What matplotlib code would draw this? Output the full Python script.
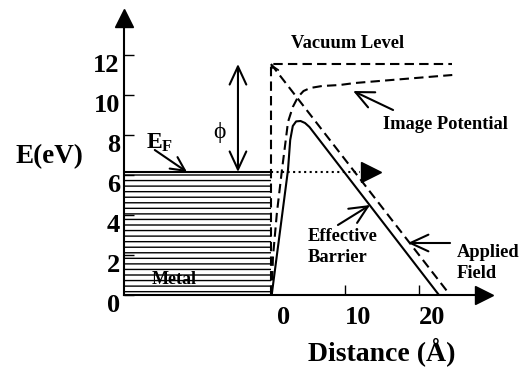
import numpy as np
import matplotlib.pyplot as plt
from matplotlib.patches import Rectangle
from matplotlib.transforms import ScaledTranslation

plt.rcParams['font.family'] = ['Liberation Serif', 'DejaVu Serif']
plt.rcParams['font.weight'] = 'bold'
plt.rcParams['mathtext.fontset'] = 'custom'
plt.rcParams['mathtext.rm'] = 'Liberation Serif:bold'
plt.rcParams['mathtext.bf'] = 'Liberation Serif:bold'
plt.rcParams['hatch.linewidth'] = 1.0
plt.rcParams['hatch.color'] = 'black'

# energy levels (eV) and distances (Angstrom)
e_fermi = 6.15
e_vacuum = 11.55
metal_left = -19.86
field_end = 24.2
vacuum_end = 24.5
fermi_arrow_end = 12.0

# effective barrier (solid)
barrier_x = [0.1, 2.3, 2.6, 2.95, 3.4, 4.0, 4.6, 5.2, 22.7]
barrier_e = [0.0, 6.25, 7.75, 8.45, 8.68, 8.7, 8.6, 8.4, 0.0]

# image potential (dashed)
image_x = [0.1, 0.27, 0.8, 1.5, 2.0, 2.3, 2.95, 3.65, 4.4, 5.3, 6.9, 9.3, 11.35, 24.5]
image_e = [0.0, 1.9, 4.1, 6.3, 7.75, 8.65, 9.4, 9.9, 10.2, 10.35, 10.45, 10.5, 10.6, 11.0]

yticks = [0, 2, 4, 6, 8, 10, 12]
xticks = [0, 10, 20]

fig = plt.figure(figsize=(5.22, 3.68), dpi=100)
ax = fig.add_axes([124 / 522, 73 / 368, 359.5 / 522, 277 / 368])
ax.set_xlim(metal_left, 28.72)
ax.set_ylim(0, 13.85)

for s in ['top', 'right']:
    ax.spines[s].set_visible(False)
for s in ['left', 'bottom']:
    ax.spines[s].set_linewidth(1.5)

# axis arrows
ax.plot(1, 0, '>', color='k', ms=12.5, transform=ax.transAxes, clip_on=False)
ax.plot(0, 1, '^', color='k', ms=13, transform=ax.transAxes, clip_on=False)

ax.set_xticks(xticks)
ax.set_yticks(yticks)
ax.tick_params(direction='in', length=7.5, width=1.0, labelsize=19)
ax.tick_params(axis='y', pad=3)
ax.tick_params(axis='x', pad=8)
for lab in ax.get_yticklabels():
    lab.set_transform(lab.get_transform() + ScaledTranslation(0, -0.08, fig.dpi_scale_trans))
for lab in ax.get_xticklabels():
    lab.set_transform(lab.get_transform() + ScaledTranslation(0.13, 0, fig.dpi_scale_trans))

# metal
ax.add_patch(Rectangle((metal_left, 0), -metal_left, e_fermi, fill=False,
                       hatch='---', linewidth=0, edgecolor='black', zorder=1))
ax.plot([metal_left, 0], [e_fermi, e_fermi], color='k', lw=1.5)

dash = (4.5, 2.5)
# vacuum level
ax.plot([0, 0, vacuum_end], [0, e_vacuum, e_vacuum], color='k', lw=1.5,
        linestyle='--', dashes=dash)
# applied field
ax.plot([0, field_end], [e_vacuum, 0], color='k', lw=1.5, linestyle='--', dashes=dash)
ax.annotate('', xy=(0, e_vacuum), xytext=(0.25, e_vacuum - 0.2),
            arrowprops=dict(arrowstyle='->,head_length=0.5,head_width=0.3',
                            lw=1.2, color='k', shrinkA=0, shrinkB=0))
# image potential
ax.plot(image_x, image_e, color='k', lw=1.5, linestyle='--', dashes=dash)
# effective barrier
ax.plot(barrier_x, barrier_e, color='k', lw=1.5)

# tunnelling electrons at Fermi level
ax.plot([0, fermi_arrow_end], [e_fermi, e_fermi], color='k', lw=1.5, linestyle=':')
ax.plot(13.5, e_fermi, '>', color='k', ms=15, clip_on=False)

arrow = dict(arrowstyle='->,head_length=1.3,head_width=0.6', lw=1.5, color='k',
             shrinkA=0, shrinkB=0)

# work function
ax.annotate('', xy=(-4.46, e_vacuum), xytext=(-4.46, e_fermi),
            arrowprops=dict(arrowstyle='<->,head_length=1.3,head_width=0.6', lw=1.5,
                            color='k', shrinkA=0, shrinkB=0))
ax.text(-7.0, 8.15, 'ϕ', fontsize=17, fontweight='normal', ha='center', va='center')

ax.annotate('', xy=(-11.35, e_fermi), xytext=(-15.7, 7.25),
            arrowprops=dict(arrowstyle='->,head_length=1.0,head_width=0.5', lw=1.5,
                            color='k', shrinkA=0, shrinkB=0))
ax.text(-15.0, 7.6, r'$\mathbf{E_F}$', fontsize=17, ha='center', va='center')

ax.annotate('', xy=(11.1, 10.2), xytext=(16.5, 9.25), arrowprops=arrow)
ax.annotate('', xy=(13.4, 4.5), xytext=(9.05, 3.5), arrowprops=arrow)
ax.annotate('', xy=(18.5, 2.6), xytext=(24.2, 2.6), arrowprops=arrow, annotation_clip=False)

fs = 13.3
ax.text(10.3, 12.6, 'Vacuum Level', fontsize=fs, ha='center', va='center', clip_on=False)
ax.text(23.6, 8.55, 'Image Potential', fontsize=fs, ha='center', va='center', clip_on=False)
ax.text(5.0, 2.4, 'Effective\nBarrier', fontsize=fs, ha='left', va='center', linespacing=1.3)
ax.text(25.1, 1.6, 'Applied\nField', fontsize=fs, ha='left', va='center', linespacing=1.3,
        clip_on=False)
ax.text(-13.1, 0.8, 'Metal', fontsize=13, ha='center', va='center')

ax.text(-30.0, 6.9, 'E(eV)', fontsize=19.5, ha='center', va='center', clip_on=False)
ax.text(15.0, -2.85, 'Distance (Å)', fontsize=20, ha='center', va='center', clip_on=False)

fig.savefig('out.png', dpi=100)
